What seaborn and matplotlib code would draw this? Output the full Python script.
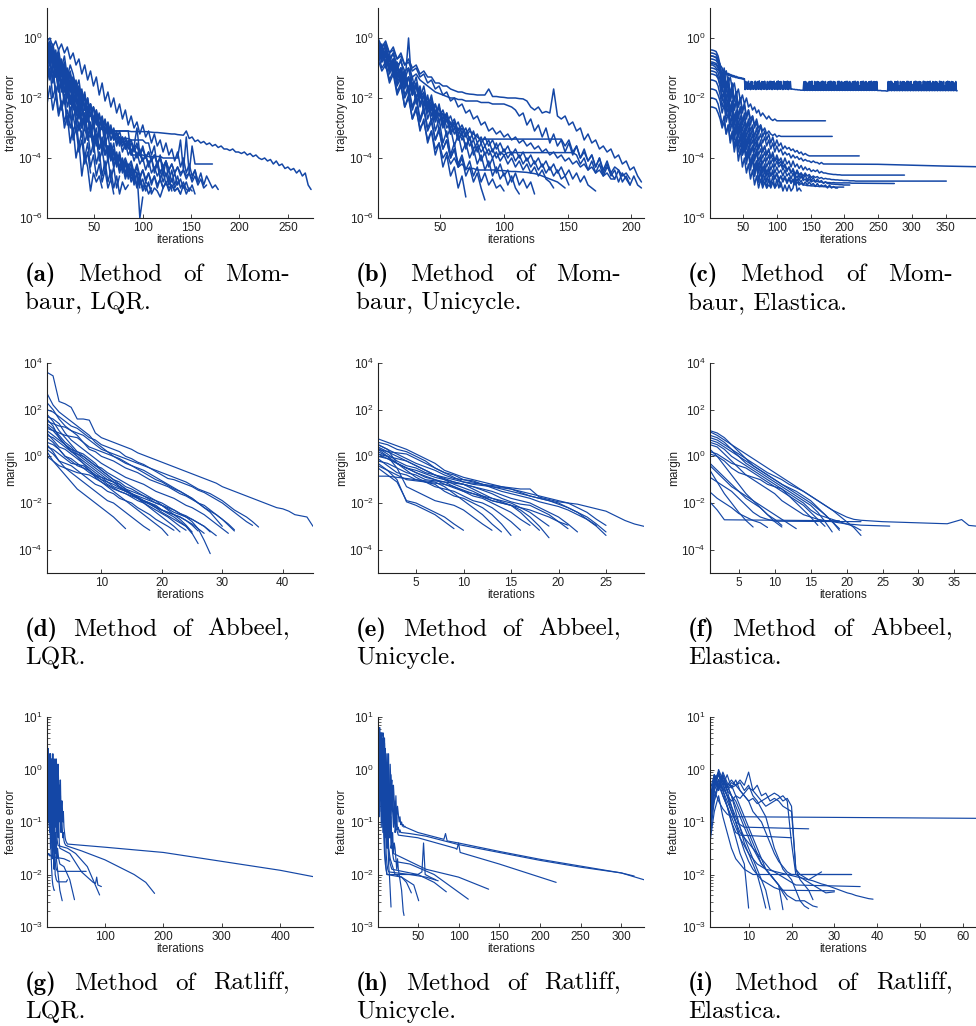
import numpy as np
import pandas as pd
import matplotlib
matplotlib.use("Agg")
import matplotlib.pyplot as plt
import seaborn as sns
from matplotlib.ticker import FixedLocator, FuncFormatter, LogLocator, NullLocator, NullFormatter

# ---------------------------------------------------------------------------
# DATA  (log10 of the plotted quantity, sampled every *_STEP iterations from
# iteration 1; *_TAILS add (iteration, log10 value) points after the samples)
# ---------------------------------------------------------------------------
MOMBAUR_STEP = 3
MOMBAUR_LQR = [
    [-0.1,-0.4,-0.3,-0.8,-0.6,-1.1,-0.9,-1.3,-1.5,-1.3,-1.8,-1.7,-2.1,-2.0,-2.4,-2.3,-2.7,-2.8,-3.0,
     -3.05,-3.1,-3.1,-3.1,-3.1,-3.1,-3.1,-3.1,-3.1,-3.1,-3.12,-3.12,-3.12,-3.12,-3.12,-3.12,
     -3.13,-3.14,-3.15,-3.15,-3.16,-3.17,-3.18,-3.19,-3.2,-3.2,-3.22,-3.23,-3.24,-3.1,-3.35,
     -3.3,-3.45,-3.4,-3.5,-3.45,-3.55,-3.5,-3.6,-3.55,-3.65,-3.6,-3.7,-3.7,-3.75,-3.7,-3.8,-3.8,-3.85,-3.8,-3.9,
     -3.85,-3.95,-3.9,-4.0,-4.05,-4.0,-4.1,-4.05,-4.2,-4.1,-4.25,-4.2,-4.35,-4.3,-4.4,-4.35,-4.5,-4.4,-4.6,-4.5,-4.9,-5.05],
    [-0.5,-0.2,-0.9,-0.6,-1.2,-0.8,-1.4,-1.1,-1.7,-1.5,-2.0,-1.6,-2.2,-2.0,-2.5,-2.3,-2.7,-2.6,-2.9,-2.8,-3.0,
     -3.1,-3.1,-3.1,-3.1,-3.1,-3.1,-3.1,-3.1,-3.9,-3.9,-3.9,-3.9,-3.9,-3.95,-3.95,-3.95,-3.95,-3.95,-3.95,
     -4.0,-4.0,-4.0,-4.0,-4.0,-4.0,-3.4,-4.4,-3.3,-4.5,-3.6,-4.2,-4.2,-4.2,-4.2,-4.2,-4.2,-4.2],
    [-0.8,-0.3,-1.0,-0.7,-1.3,-0.9,-1.5,-1.2,-1.8,-1.4,-2.0,-1.7,-2.3,-1.9,-2.4,-2.2,-2.7,-2.4,-2.9,-2.6,
     -3.1,-2.8,-3.2,-3.0,-3.4,-3.1,-3.5,-3.3,-3.6,-3.4,-3.7,-3.5,-3.9,-3.6,-4.0,-3.8,-4.1,-3.9,-4.2,-4.0,
     -4.3,-4.1,-4.4,-4.2,-4.5,-4.3,-4.5,-4.4,-4.6,-4.5,-4.7,-4.4,-4.8,-4.5,-4.9,-4.6,-4.8,-5.0,-4.9,-5.05],
    [-0.2,-0.6,-0.4,-1.0,-0.7,-1.3,-1.0,-1.6,-1.2,-1.9,-1.5,-2.1,-1.8,-2.4,-2.0,-2.6,-2.3,-2.8,-2.5,-3.0,
     -2.7,-3.2,-2.9,-3.4,-3.1,-3.5,-3.3,-3.7,-3.4,-3.8,-3.6,-4.0,-3.7,-4.1,-3.9,-4.2,-4.0,-4.4,-4.1,-4.5,
     -4.3,-4.6,-4.4,-4.8,-4.5,-4.9,-4.7,-5.0,-4.8,-5.1,-4.9,-5.2],
    [-1.0,-0.6,-1.4,-1.1,-1.8,-1.5,-2.2,-1.8,-2.5,-2.1,-2.8,-2.4,-3.0,-2.7,-3.3,-2.9,-3.5,-3.2,-3.7,-3.4,
     -3.9,-3.6,-4.0,-3.8,-4.2,-3.9,-4.3,-4.1,-4.4,-4.2,-4.6,-4.3,-4.7,-4.4,-4.8,-4.5,-4.9,-4.6,-5.0,-4.7,
     -5.0,-4.8,-5.1,-4.9,-5.1,-5.0,-5.2,-4.9,-5.2,-5.0,-5.1],
    [-0.5,-0.9,-0.6,-1.3,-0.9,-1.7,-1.3,-2.0,-1.6,-2.4,-2.0,-2.7,-2.3,-3.0,-2.6,-3.2,-2.9,-3.5,-3.1,-3.7,
     -3.3,-3.9,-3.5,-4.1,-3.8,-4.3,-4.0,-4.5,-4.2,-4.6,-4.4,-4.5,-6.0,-5.3],
    [-0.3,-0.8,-0.5,-1.3,-1.0,-1.8,-1.4,-2.3,-1.9,-2.7,-2.3,-3.1,-2.7,-3.5,-3.1,-3.9,-3.5,-4.2,-3.8,-4.6,
     -4.1,-4.8,-4.4,-5.0,-4.6,-5.2,-4.8,-5.05,-4.9],
    [-1.5,-1.0,-2.0,-1.6,-2.5,-2.1,-3.0,-2.6,-3.5,-3.0,-4.0,-3.5,-4.6,-3.9,-4.3,-5.1,-4.5,-4.8,-4.6,-5.0],
    [-0.6,-0.2,-1.0,-0.7,-1.5,-1.1,-1.8,-1.4,-2.2,-1.8,-2.5,-2.1,-2.8,-2.5,-3.1,-2.8,-3.4,-3.0,-3.7,-3.3,
     -3.9,-3.6,-4.1,-3.8,-4.3,-4.0,-4.5,-4.2,-4.6,-4.4,-4.8,-4.5,-4.9,-4.7,-5.1,-4.8,-5.2,-5.0,-5.1,-5.3,-5.0],
    [-0.1,-0.5,-0.3,-0.8,-0.5,-1.1,-0.8,-1.4,-1.1,-1.7,-1.4,-2.0,-1.7,-2.3,-2.0,-2.6,-2.3,-2.9,-2.6,-3.0,
     -2.8,-3.2,-3.0,-3.3,-3.2,-3.35,-3.35,-3.35,-3.35,-3.4,-3.4,-3.4,-3.4,-3.4,-3.5,-3.5,-3.9,-3.6,-4.3,-3.9,
     -4.6,-4.1,-4.8,-4.4,-4.9,-4.6,-5.0,-4.8,-5.05,-5.1],
    [-0.4,-0.9,-0.5,-1.2,-0.8,-1.5,-1.1,-1.9,-1.4,-2.2,-1.7,-2.5,-2.0,-2.9,-2.3,-3.2,-2.7,-3.5,-3.0,-3.8,
     -3.3,-4.0,-3.6,-4.3,-3.9,-4.4,-4.1,-4.6,-4.3,-4.7,-4.5,-4.9,-4.6,-5.0,-4.8,-4.9,-5.1],
    [-0.9,-1.4,-1.0,-1.9,-1.5,-2.3,-1.9,-2.8,-2.3,-3.2,-2.7,-3.6,-3.1,-4.0,-3.5,-4.3,-3.9,-4.6,-4.2,-4.8,
     -4.4,-5.0,-4.7,-5.2],
    [-2.2,-1.6,-2.4,-1.9,-2.6,-2.2,-2.8,-2.4,-3.0,-2.6,-3.1,-2.8,-3.3,-3.0,-3.4,-3.2,-3.6,-3.3,-3.7,-3.5,
     -3.8,-3.6,-4.0,-3.7,-4.1,-3.9,-4.2,-4.0,-4.3,-4.1,-4.5,-4.2,-4.6,-4.4,-4.7,-4.5,-4.8,-4.6,-4.9,-4.7,
     -5.0,-4.8,-5.0,-4.9,-5.1,-5.0,-5.2],
    [0.0,-0.4,-0.2,-0.7,-0.4,-1.0,-0.6,-1.3,-0.9,-1.2,-1.7,-1.4,-2.1,-1.8,-2.5,-2.2,-2.9,-2.5,-3.2,-2.9,
     -3.6,-3.2,-3.9,-3.5,-4.2,-3.8,-4.4,-4.1,-4.7,-4.3,-4.9,-4.5,-5.0],
    [-0.3,-0.7,-0.4,-0.9,-0.6,-1.2,-0.9,-1.5,-1.2,-1.8,-1.5,-2.1,-1.8,-2.4,-2.1,-2.6,-2.3,-2.8,-2.6,-3.0,
     -2.8,-3.2,-3.0,-3.4,-3.2,-3.6,-3.3,-3.7,-3.5,-3.9,-3.6,-3.0,-3.9,-4.1,-3.9,-4.3,-4.0,-4.5,-4.2,-4.7,
     -4.4,-4.9,-4.6,-5.1],
    [-0.7,-1.3,-1.0,-1.8,-1.5,-2.4,-2.0,-2.9,-2.5,-3.4,-3.0,-3.8,-3.4,-4.2,-3.8,-4.5],
    [-0.1,0.0,-0.3,-0.1,-0.4,-0.2,-0.5,-0.3,-0.7,-0.5,-0.9,-0.7,-1.2,-0.9,-1.4,-1.1,-1.6,-1.3,-1.9,-1.5,
     -2.1,-1.8,-2.3,-2.0,-2.5,-2.2,-2.7,-2.4,-2.9,-2.6,-3.0,-2.8,-3.2,-2.9,-3.3,-3.1,-3.5,-3.2,-3.6,-3.4,
     -3.8,-3.5,-3.9,-3.7,-4.1,-3.8,-4.3,-4.0,-4.5,-4.2,-4.6,-4.4,-4.8],
    [-0.5,-0.1,-0.8,-0.4,-1.1,-0.7,-1.4,-1.0,-1.7,-1.3,-2.0,-1.6,-2.3,-1.9,-2.5,-2.2,-2.8,-2.4,-3.0,-2.7,
     -3.2,-2.9,-3.4,-3.1,-3.6,-3.3,-3.8,-3.5,-3.9,-3.7,-4.1,-3.8,-4.2,-4.0,-4.4,-4.1,-4.5,-4.3,-4.6,-4.4,
     -4.8,-4.5,-4.9,-4.7,-5.0,-4.8],
    [-0.2,-0.8,-0.5,-1.2,-0.9,-1.6,-1.2,-1.9,-1.5,-2.3,-1.9,-2.6,-2.2,-2.9,-2.5,-3.3,-2.8,-3.6,-3.1,-3.9,
     -3.4,-4.1,-3.7,-4.3,-4.0,-4.5,-4.2,-4.7,-4.4,-4.8,-4.6,-5.0,-4.7,-5.1,-4.9,-5.2,-5.0],
    [-1.2,-0.8,-1.5,-1.1,-1.7,-1.4,-2.0,-1.6,-2.2,-1.9,-2.4,-2.1,-2.6,-2.3,-2.8,-2.5,-3.0,-2.7,-3.1,-2.9,
     -3.3,-3.0,-3.4,-3.2,-3.5,-3.3,-3.6,-3.4,-3.7,-3.5,-3.8,-3.6,-3.9,-3.7,-4.0,-3.8,-4.1,-3.9,-4.2,-4.0,
     -4.3,-4.1,-4.4,-4.2,-4.5,-4.3,-4.6,-4.4,-4.7,-4.5,-4.8,-4.6,-4.9,-4.7,-5.0,-4.9],
    [-0.4,-0.2,-0.9,-0.5,-1.4,-0.9,-1.8,-1.3,-2.2,-1.7,-2.6,-2.1,-3.0,-2.5,-3.4,-2.9,-3.8,-3.3,-4.1,-3.7,
     -4.4,-4.0,-4.7,-4.3,-5.0,-4.6],
]

MOMBAUR_UNICYCLE = [
    [0.0,-0.3,-0.1,-0.5,-0.3,-0.7,-0.5,-0.9,-0.7,-1.0,-0.9,-1.2,-1.1,-1.3,-1.3,-1.5,-1.5,-1.6,-1.6,-1.7,
     -1.75,-1.8,-1.8,-1.85,-1.87,-1.88,-1.9,-1.9,-1.9,-1.7,-1.95,-1.95,-1.97,-1.98,-2.0,-2.0,-2.0,-2.02,-2.03,-2.1,
     -2.3,-2.4,-2.3,-2.5,-2.45,-2.5,-1.7,-2.6,-2.7,-2.6,-2.9,-2.8,-3.1,-3.0,-3.4,-3.2,-3.5,-3.4,-3.7,-3.6,
     -3.8,-3.7,-4.0,-3.9,-4.2,-4.1,-4.4,-4.3,-4.6,-4.8],
    [-0.2,-0.5,-0.3,-0.7,-0.5,-0.9,-0.8,-1.1,-1.0,-1.3,-1.2,-1.4,-1.5,-1.6,-1.7,-1.8,-1.85,-1.9,-1.95,-2.0,
     -2.0,-2.05,-2.05,-2.1,-2.1,-2.1,-2.1,-2.15,-2.15,-2.15,-2.2,-2.2,-2.2,-2.2,-2.25,-2.3,-2.4,-2.6,-2.5,-2.9,
     -2.7,-3.1,-2.9,-3.3,-3.0,-3.5,-3.2,-3.6,-3.4,-3.8,-3.5,-3.9,-3.6,-4.0,-3.8,-4.1,-3.9,-4.3,-4.0,-4.4,
     -4.1,-4.5,-4.3,-4.4,-4.6,-4.5,-4.7],
    [-0.4,-0.8,-0.6,-1.1,-0.8,-1.4,-1.1,-1.7,-1.3,-1.9,-1.6,-2.2,-1.9,-2.4,-2.1,-2.7,-2.3,-2.9,-2.6,-3.0,
     -2.8,-3.2,-3.0,-3.3,-3.1,-3.2,-3.3,-3.4,-3.37,-3.37,-3.37,-3.37,-3.37,-3.37,-3.37,-3.37,-3.37,-3.37,-3.37,-3.37,
     -3.37,-3.37,-3.37,-3.37,-3.37,-3.37,-3.37,-3.37,-3.37,-3.6,-3.4,-3.8,-3.6,-4.0,-3.7,-4.1,-3.9,-4.3,-4.0,-4.5,
     -4.2,-4.6,-4.4,-4.8,-4.5,-4.7,-4.9,-4.6,-4.9,-5.0],
    [-0.3,-0.7,-0.4,-1.0,-0.7,-1.3,-1.0,-1.6,-1.3,-1.9,-1.6,-2.2,-1.9,-2.5,-2.2,-2.8,-2.5,-3.0,-2.7,-3.2,
     -3.0,-3.4,-3.2,-3.6,-3.3,-3.7,-3.5,-3.8,-3.6,-3.9,-3.7,-4.0,-3.8,-3.9,-3.82,-3.82,-3.82,-3.82,-3.82,-3.82,
     -3.82,-3.82,-3.82,-3.82,-3.82,-3.82,-3.82,-3.82,-3.82,-3.82,-3.82,-3.82,-3.9,-4.2,-4.0,-4.4,-4.1,-4.5,-4.2,-4.6,
     -4.3,-4.5,-4.7,-4.4,-4.8,-4.6,-4.9],
    [-0.5,-1.0,-0.8,-1.4,-1.1,-1.8,-1.5,-2.3,-1.9,-2.7,-2.3,-3.1,-2.7,-3.5,-3.1,-3.9,-3.5,-4.3,-3.9,-4.6,
     -4.3,-5.0,-4.6,-5.3],
    [-0.2,-0.6,-0.4,-1.1,-0.8,-1.5,-1.2,-1.9,-1.6,-2.3,-1.9,-2.7,-2.3,-3.0,-2.7,-3.4,-3.0,-3.7,-3.4,-4.0,
     -3.7,-4.3,-4.0,-4.6,-4.3,-4.8,-4.5,-5.0,-5.4],
    [-0.6,-0.3,-0.9,-0.6,-1.2,-0.9,-1.6,-1.2,-1.9,-1.5,-2.2,-1.8,-2.5,-2.1,-2.8,-2.4,-3.1,-2.7,-3.3,-3.0,
     -3.6,-3.2,-3.8,-3.5,-4.0,-3.7,-4.2,-3.9,-4.4,-4.1,-4.6,-4.3,-4.7,-4.5,-4.9,-4.6,-5.0,-5.2],
    [-0.7,-1.1,-0.9,-1.5,-1.2,-1.9,-1.6,-2.3,-2.0,-2.7,-2.4,-3.0,-2.8,-3.4,-3.1,-3.7,-3.5,-4.0,-3.8,-4.2,
     -4.0,-4.3,-4.2,-4.35,-4.35,-4.35,-4.4,-4.4,-4.4,-4.4,-4.4,-4.4,-4.42,-4.42,-4.44,-4.45,-4.45,-4.46,-4.47,-4.48,
     -4.5,-4.52,-4.55,-4.6,-4.65,-4.7,-4.75,-4.8,-4.9,-5.0],
    [-0.1,-0.5,-0.2,-0.8,-0.5,-1.1,-0.7,-1.4,-1.0,-1.7,-1.3,-2.0,-1.6,-2.3,-1.9,-2.6,-2.2,-2.9,-2.5,-3.2,
     -2.8,-3.4,-3.1,-3.7,-3.3,-3.9,-3.6,-4.1,-3.8,-4.3,-4.0,-4.5,-4.2,-4.6,-4.4,-4.8,-4.5,-4.9,-4.7,-5.0,-4.8,-5.2],
    [-0.3,-0.6,-0.5,-0.9,-0.7,-1.2,-1.0,-1.5,-1.3,-1.8,-1.5,-2.0,-1.8,-2.3,-2.0,-2.5,-2.3,-2.7,-2.5,-2.9,
     -2.7,-3.1,-2.9,-3.2,-3.0,-3.4,-3.2,-3.5,-3.3,-3.6,-3.4,-3.7,-3.5,-3.8,-3.6,-3.9,-3.7,-4.0,-3.8,-4.1,
     -3.9,-4.2,-4.0,-4.3,-4.1,-4.4,-4.2,-4.5,-4.3,-4.6,-4.4,-4.7,-4.5,-4.8,-4.6,-4.9,-5.0,-5.1],
    [-0.8,-0.4,-1.0,-0.7,-1.3,-1.0,-1.5,-1.2,-1.8,-1.5,-2.0,-1.7,-2.2,-2.0,-2.4,-2.2,-2.6,-2.4,-2.8,-2.6,
     -3.0,-2.8,-3.2,-3.0,-3.4,-3.1,-3.5,-3.3,-3.6,-3.4,-3.8,-3.5,-3.9,-3.7,-4.0,-3.8,-4.1,-3.9,-4.2,-4.0,
     -4.3,-4.1,-4.4,-4.2,-4.5,-4.3,-4.6,-4.4,-4.7,-4.6,-4.9],
    [-0.2,-0.7,-0.4,-1.0,-0.7,-1.3,-1.0,-1.6,0.0,-1.9,-1.5,-2.3,-1.9,-2.7,-2.3,-3.1,-2.7,-3.5,-3.1,-3.9,
     -3.5,-4.3],
    [-0.1,-0.3,-0.2,-0.5,-0.4,-0.7,-0.6,-0.9,-0.8,-1.1,-1.0,-1.3,-1.2,-1.5,-1.4,-1.7,-1.6,-1.9,-1.8,-2.1,
     -2.0,-2.3,-2.2,-2.5,-2.4,-2.7,-2.6,-2.9,-2.8,-3.1,-3.0,-3.2,-3.1,-3.3,-3.2,-3.4,-3.3,-3.5,-3.4,-3.6,
     -3.5,-3.7,-3.6,-3.8,-3.7,-3.9,-3.8,-4.0,-3.9,-4.1,-4.0,-4.2,-4.1,-4.3,-4.2,-4.4,-4.3,-4.5,-4.4,-4.6,
     -4.5,-4.7,-4.7],
    [-0.5,-0.2,-0.8,-0.5,-1.1,-0.8,-1.4,-1.1,-1.7,-1.3,-2.0,-1.6,-2.3,-1.9,-2.6,-2.2,-2.8,-2.5,-3.0,-2.8,
     -3.2,-3.0,-3.4,-3.2,-3.6,-3.4,-3.8,-3.5,-3.9,-3.7,-4.0,-3.8,-4.1,-3.9,-4.2,-4.0,-4.3,-4.1,-4.4,-4.2,
     -4.5,-4.3,-4.6,-4.4,-4.7,-4.8,-5.0],
    [-0.3,-0.8,-0.5,-1.2,-0.9,-1.6,-1.3,-2.0,-1.7,-2.4,-2.0,-2.8,-2.4,-3.1,-2.8,-3.4,-3.1,-3.7,-3.4,-4.0,
     -3.7,-4.2,-3.9,-4.4,-4.1,-4.6,-4.3,-4.8,-4.5,-4.9,-4.7,-5.0,-4.9,-5.1],
]

# first Elastica run is recorded at every iteration (its oscillation is dense)
MOMBAUR_ELASTICA_LINE_STEP = {0: 1}
MOMBAUR_ELASTICA = [
    [-0.9,-0.9,-0.9,-0.9,-0.9,-0.92,-0.93,-0.95,-0.97,-1.0,-1.02,-1.04,-1.06,-1.08,-1.1,-1.12,
     -1.15,-1.12,-1.18,-1.14,-1.2,-1.16,-1.22,-1.17,-1.1,-1.2,-1.23,-1.18,-1.25,-1.2,-1.26,-1.22,-1.28,-1.24,-1.3,-1.25,
     -1.3,-1.27,-1.32,-1.28,-1.33,-1.3,-1.34,-1.31,-1.35,-1.32,-1.36,-1.33,-1.37,-1.34,-1.38,-1.36,
     -1.72,-1.45,-1.7,-1.48,-1.71,-1.44,-1.7,-1.52,-1.72,-1.45,-1.7,-1.46,-1.71,-1.6,-1.7,-1.44,-1.72,-1.47,-1.7,-1.45,
     -1.71,-1.43,-1.7,-1.5,-1.72,-1.45,-1.7,-1.46,-1.71,-1.44,-1.7,-1.55,-1.72,-1.45,-1.7,-1.47,-1.71,-1.44,-1.7,-1.45,
     -1.72,-1.46,-1.7,-1.44,-1.71,-1.5,-1.7,-1.45,-1.72,-1.43,-1.7,-1.46,-1.71,-1.45,-1.7,-1.58,-1.72,-1.44,-1.7,-1.46,
     -1.71,-1.45,-1.7,-1.44,-1.72,-1.47,-1.7,-1.45,-1.71,
     -1.7,-1.7,-1.71,-1.71,-1.71,-1.72,-1.72,-1.72,-1.72,-1.73,-1.73,-1.73,-1.73,-1.74,-1.74,-1.74,-1.74,-1.74,
     -1.46,-1.75,-1.45,-1.74,-1.47,-1.75,-1.52,-1.74,-1.45,-1.75,-1.46,-1.74,-1.44,-1.75,-1.6,-1.74,-1.45,-1.75,-1.47,-1.74,
     -1.45,-1.75,-1.46,-1.74,-1.5,-1.75,-1.45,-1.74,-1.44,-1.75,-1.47,-1.74,-1.45,-1.75,-1.55,-1.74,-1.46,-1.75,-1.45,-1.74,
     -1.44,-1.75,-1.47,-1.74,-1.45,-1.75,-1.46,-1.74,-1.58,-1.75,-1.45,-1.74,-1.44,-1.75,-1.47,-1.74,-1.45,-1.75,-1.5,-1.74,
     -1.46,-1.75,-1.45,-1.74,-1.44,-1.75,-1.47,-1.74,-1.45,-1.75,-1.53,-1.74,-1.46,-1.75,-1.45,-1.74,-1.44,-1.75,-1.47,-1.74,
     -1.45,-1.75,-1.6,-1.74,-1.46,-1.75,-1.45,-1.74,-1.44,-1.75,-1.47,-1.74,-1.45,-1.75,-1.5,-1.74,-1.46,-1.75,-1.45,-1.74,
     -1.44,-1.75,-1.47,-1.74,-1.45,-1.75,-1.46,-1.74,-1.45,-1.75,-1.75,
     -1.75,-1.75,-1.75,-1.75,-1.76,-1.76,-1.76,-1.76,-1.76,-1.76,-1.76,-1.77,-1.77,-1.77,
     -1.45,-1.76,-1.46,-1.75,-1.44,-1.76,-1.47,-1.75,-1.52,-1.76,-1.45,-1.75,-1.46,-1.76,-1.44,-1.75,-1.6,-1.76,-1.45,-1.75,
     -1.47,-1.76,-1.45,-1.75,-1.46,-1.76,-1.5,-1.75,-1.44,-1.76,-1.45,-1.75,-1.47,-1.76,-1.45,-1.75,-1.55,-1.76,-1.46,-1.75,
     -1.44,-1.76,-1.45,-1.75,-1.47,-1.76,-1.45,-1.75,-1.46,-1.76,-1.58,-1.75,-1.44,-1.76,-1.45,-1.75,-1.47,-1.76,-1.45,-1.75,
     -1.46,-1.76,-1.44,-1.75,-1.5,-1.76,-1.45,-1.75,-1.47,-1.76,-1.45,-1.75,-1.46,-1.76,-1.53,-1.75,-1.44,-1.76,-1.45,-1.75,
     -1.47,-1.76,-1.45,-1.75,-1.6,-1.76,-1.46,-1.75,-1.44,-1.76,-1.45,-1.75,-1.47,-1.76,-1.45,-1.75,-1.46,-1.76,-1.5,-1.75,
     -1.45,-1.76,-1.76],
    [-0.6,-0.6,-0.62,-0.65,-0.75,-0.9,-1.0,-1.3,-1.1,-1.5,-1.3,-1.7,-1.5,-1.9,-1.7,-2.1,-1.9,-2.2,-2.0,-2.3,
     -2.2,-2.4,-2.3,-2.5,-2.4,-2.6,-2.5,-2.6,-2.7,-2.6,-2.7,-2.75,-2.7,-2.76,-2.76],
    [-0.8,-0.8,-0.82,-0.85,-0.95,-1.1,-1.4,-1.2,-1.7,-1.4,-1.9,-1.6,-2.1,-1.8,-2.3,-2.0,-2.4,-2.2,-2.6,-2.4,
     -2.7,-2.6,-2.9,-2.7,-3.0,-2.9,-3.1,-3.0,-3.2,-3.1,-3.2,-3.25,-3.2,-3.3,-3.25,-3.28,-3.28,-3.28],
    [-0.5,-0.5,-0.52,-0.55,-0.7,-0.9,-1.3,-1.0,-1.6,-1.3,-1.9,-1.5,-2.1,-1.8,-2.3,-2.0,-2.5,-2.2,-2.7,-2.4,
     -2.9,-2.6,-3.0,-2.8,-3.2,-2.9,-3.3,-3.1,-3.4,-3.2,-3.5,-3.3,-3.6,-3.4,-3.6,-3.5,-3.7,-3.6,-3.7,-3.65,
     -3.75,-3.7,-3.8,-3.75,-3.85,-3.8,-3.9,-3.85,-3.9,-3.93,-3.93],
    [-0.7,-0.7,-0.72,-0.75,-0.85,-1.0,-1.5,-1.2,-1.8,-1.5,-2.1,-1.8,-2.4,-2.1,-2.6,-2.3,-2.8,-2.5,-3.0,-2.7,
     -3.1,-2.9,-3.3,-3.0,-3.4,-3.2,-3.5,-3.3,-3.6,-3.4,-3.7,-3.5,-3.8,-3.6,-3.8,-3.7,-3.9,-3.8,-3.9,-3.85,
     -4.0,-3.9,-4.0,-3.95,-4.05,-4.0,-4.1,-4.05,-4.1,-4.1,-4.15,-4.1,-4.15,-4.15,-4.2,-4.15,-4.2,-4.2,-4.2],
    [-1.0,-1.0,-1.02,-1.05,-1.15,-1.4,-1.8,-1.5,-2.1,-1.8,-2.4,-2.1,-2.7,-2.4,-2.9,-2.6,-3.1,-2.8,-3.3,-3.0,
     -3.5,-3.2,-3.6,-3.4,-3.7,-3.5,-3.8,-3.6,-3.9,-3.7,-4.0,-3.8,-4.1,-3.9,-4.1,-4.0,-4.2,-4.0,-4.2,-4.1,
     -4.3,-4.1,-4.3,-4.2,-4.35,-4.25,-4.4,-4.3,-4.4,-4.35,-4.45,-4.4,-4.45,-4.4,-4.5,-4.45,-4.5,-4.5,-4.52,-4.53,
     -4.54,-4.55,-4.55,-4.56,-4.56,-4.57,-4.57,-4.57],
    [-1.2,-1.2,-1.22,-1.25,-1.35,-1.6,-2.0,-1.7,-2.3,-2.0,-2.6,-2.3,-2.9,-2.6,-3.1,-2.8,-3.3,-3.0,-3.5,-3.2,
     -3.6,-3.4,-3.8,-3.5,-3.9,-3.7,-4.0,-3.8,-4.1,-3.9,-4.2,-4.0,-4.3,-4.1,-4.3,-4.2,-4.4,-4.25,-4.45,-4.3,
     -4.5,-4.35,-4.55,-4.4,-4.55,-4.5,-4.6,-4.5,-4.6,-4.55,-4.65,-4.6,-4.65,-4.62,-4.68,-4.65,-4.7,-4.68,-4.7,-4.7,
     -4.72,-4.72,-4.73,-4.73,-4.74,-4.74,-4.75,-4.75,-4.75,-4.76,-4.76,-4.76,-4.77,-4.77,-4.77,-4.77],
    [-1.4,-1.4,-1.42,-1.45,-1.6,-1.9,-2.3,-2.0,-2.6,-2.3,-2.9,-2.6,-3.1,-2.8,-3.3,-3.0,-3.5,-3.2,-3.7,-3.4,
     -3.8,-3.6,-4.0,-3.7,-4.1,-3.9,-4.2,-4.0,-4.3,-4.1,-4.4,-4.2,-4.5,-4.3,-4.5,-4.4,-4.6,-4.4,-4.6,-4.5,
     -4.7,-4.5,-4.7,-4.6,-4.75,-4.6,-4.75,-4.7,-4.8,-4.7,-4.8,-4.75,-4.8,-4.78,-4.8,-4.8,-4.82,-4.8,-4.82,-4.82,
     -4.83,-4.82,-4.83,-4.83,-4.83,-4.83,-4.83,-4.83,-4.83,-4.83,-4.84,-4.84,-4.84],
    [-0.4,-0.4,-0.42,-0.45,-0.6,-0.9,-1.4,-1.1,-1.8,-1.4,-2.1,-1.7,-2.4,-2.0,-2.7,-2.3,-2.9,-2.6,-3.1,-2.8,
     -3.3,-3.0,-3.5,-3.2,-3.7,-3.4,-3.8,-3.6,-3.9,-3.7,-4.0,-3.9,-4.1,-4.0,-4.2,-4.1,-4.3,-4.2,-4.4,-4.3,
     -4.5,-4.4,-4.6,-4.45,-4.65,-4.5,-4.7,-4.55,-4.75,-4.6,-4.75,-4.65,-4.8,-4.7,-4.8,-4.75,-4.85,-4.8,-4.85,-4.85,
     -4.87,-4.87,-4.88,-4.88,-4.89,-4.89,-4.9,-4.9,-4.9,-4.9],
    [-0.85,-0.85,-0.87,-0.9,-1.0,-1.2,-1.7,-1.4,-2.1,-1.7,-2.5,-2.1,-2.8,-2.5,-3.1,-2.8,-3.4,-3.1,-3.7,-3.3,
     -3.9,-3.6,-4.1,-3.8,-4.3,-4.0,-4.4,-4.2,-4.5,-4.3,-4.6,-4.4,-4.7,-4.5,-4.75,-4.6,-4.8,-4.65,-4.85,-4.7,
     -4.85,-4.75,-4.9,-4.8,-4.9,-4.85,-4.9,-4.9,-4.92,-4.92,-4.93,-4.93,-4.94,-4.94,-4.95,-4.95,-4.95,-4.96,-4.96,-4.96,
     -4.97,-4.97,-4.97,-4.97,-4.97,-4.97,-4.97],
    [-1.1,-1.1,-1.12,-1.15,-1.3,-1.6,-2.1,-1.8,-2.5,-2.1,-2.9,-2.5,-3.3,-2.9,-3.6,-3.2,-3.9,-3.5,-4.2,-3.8,
     -4.4,-4.0,-4.6,-4.2,-4.8,-4.4,-4.9,-4.6,-5.0,-4.7,-5.0,-4.8,-5.0,-4.9,-4.7,-4.97],
    [-1.7,-1.7,-1.72,-1.75,-1.9,-2.1,-2.5,-2.2,-2.8,-2.5,-3.1,-2.8,-3.4,-3.0,-3.6,-3.3,-3.8,-3.5,-4.0,-3.7,
     -4.2,-3.9,-4.4,-4.1,-4.5,-4.2,-4.7,-4.4,-4.8,-4.5,-4.9,-4.6,-5.0,-4.7,-5.0,-4.8,-5.1,-4.9,-5.1,-4.9,
     -5.1,-5.0,-4.6,-5.1,-5.0,-5.1],
    [-2.0,-2.0,-2.02,-2.05,-2.2,-2.5,-2.9,-2.6,-3.2,-2.9,-3.5,-3.2,-3.8,-3.4,-4.1,-3.7,-4.3,-4.0,-4.5,-4.2,
     -4.7,-4.4,-4.9,-4.6,-5.0,-4.7,-5.0,-4.8,-5.0,-4.9,-4.97],
    [-2.3,-2.3,-2.32,-2.35,-2.5,-2.7,-3.0,-2.8,-3.2,-2.9,-3.4,-3.1,-3.6,-3.3,-3.8,-3.5,-3.9,-3.7,-4.1,-3.8,
     -4.2,-4.0,-4.3,-4.1,-4.4,-4.2,-4.5,-4.3,-4.6,-4.4,-4.6,-4.5,-4.7,-4.5,-4.7,-4.6,-4.75,-4.6,-4.8,-4.65,
     -4.8,-4.7,-4.85,-4.7,-4.85,-4.75,-4.9,-4.8,-4.9,-4.8,-4.9,-4.85,-4.95,-4.85,-4.95,-4.9,-4.95,-4.9,-5.0,-4.9,
     -5.0,-4.95,-5.0,-5.0],
    [-0.6,-0.6,-0.62,-0.65,-0.8,-1.1,-1.7,-1.3,-2.1,-1.7,-2.5,-2.1,-2.9,-2.5,-3.3,-2.9,-3.7,-3.3,-4.0,-3.6,
     -4.3,-3.9,-4.6,-4.2,-4.8,-4.4,-4.9],
]
MOMBAUR_ELASTICA_TAILS = {
    1: [(172, -2.76)],
    2: [(182, -3.28)],
    3: [(222, -3.93)],
    4: [(250, -4.21), (300, -4.24), (350, -4.27), (395, -4.29)],
    5: [(289, -4.57)],
    6: [(351, -4.77)],
    7: [(274, -4.85)],
}

ABBEEL_STEP = 1
ABBEEL_LQR = [
    [3.6,3.45,2.35,2.25,2.1,1.6,1.6,1.55,1.0,0.8,0.7,0.6,0.5,0.4,0.3,0.15,0.05,-0.05,-0.15,-0.25,
     -0.35,-0.45,-0.55,-0.65,-0.75,-0.85,-0.95,-1.05,-1.15,-1.3,-1.4,-1.5,-1.6,-1.7,-1.8,-1.9,-2.0,-2.1,-2.2,-2.25,
     -2.35,-2.5,-2.55,-2.6,-3.0],
    [2.0,1.9,1.7,1.5,1.3,1.2,1.0,0.8,0.7,0.5,0.4,0.3,0.2,0.0,-0.1,-0.25,-0.35,-0.5,-0.6,-0.7,
     -0.8,-0.9,-1.0,-1.1,-1.25,-1.4,-1.5,-1.6,-1.75,-1.9,-2.1,-2.3,-2.45,-2.6,-2.8,-3.03],
    [1.5,1.4,1.3,1.25,1.1,1.0,0.9,0.7,0.5,0.3,0.2,0.1,0.0,-0.1,-0.2,-0.3,-0.4,-0.5,-0.65,-0.8,
     -0.95,-1.0,-1.1,-1.2,-1.3,-1.45,-1.55,-1.7,-1.85,-2.0,-2.2,-2.4,-2.6,-2.8,-2.96],
    [1.2,1.1,1.0,0.9,0.85,0.8,0.6,0.4,0.3,0.2,0.1,0.0,-0.1,-0.25,-0.4,-0.5,-0.6,-0.75,-0.9,-1.05,
     -1.2,-1.35,-1.5,-1.65,-1.8,-2.0,-2.2,-2.35,-2.5,-2.7,-2.95,-3.2],
    [2.3,2.0,1.6,1.3,1.1,0.9,0.6,0.3,0.2,0.0,-0.1,-0.2,-0.35,-0.5,-0.6,-0.7,-0.85,-1.0,-1.1,-1.2,
     -1.3,-1.45,-1.6,-1.7,-1.85,-2.0,-2.1,-2.3,-2.5,-2.7,-2.9,-3.15],
    [1.7,1.6,1.4,1.0,0.7,0.5,0.3,0.1,-0.1,-0.3,-0.45,-0.6,-0.75,-0.9,-1.0,-1.1,-1.2,-1.35,-1.5,-1.6,
     -1.7,-1.8,-1.95,-2.1,-2.2,-2.35,-2.5,-2.7,-2.9,-3.1,-3.3],
    [0.9,0.8,0.6,0.4,0.2,0.1,0.0,-0.2,-0.4,-0.6,-0.8,-1.0,-1.1,-1.3,-1.4,-1.55,-1.7,-1.8,-1.9,-2.0,
     -2.15,-2.3,-2.45,-2.6,-2.7,-2.85,-3.0,-3.2,-3.4],
    [1.3,1.1,0.8,0.5,0.3,0.0,-0.2,-0.4,-0.6,-0.8,-1.0,-1.1,-1.2,-1.4,-1.5,-1.6,-1.7,-1.85,-2.0,-2.1,
     -2.25,-2.4,-2.5,-2.6,-2.8,-3.1,-3.6,-4.17],
    [0.6,0.5,0.3,0.0,-0.2,-0.4,-0.5,-0.6,-0.8,-1.0,-1.1,-1.2,-1.35,-1.5,-1.6,-1.7,-1.8,-1.9,-2.0,-2.1,
     -2.2,-2.3,-2.45,-2.55,-2.7,-2.85,-3.0,-3.24],
    [1.0,0.7,0.4,0.3,0.1,-0.1,-0.3,-0.5,-0.7,-0.9,-1.0,-1.1,-1.3,-1.45,-1.6,-1.75,-1.9,-2.0,-2.1,-2.3,
     -2.45,-2.6,-2.8,-3.0,-3.3,-3.74],
    [0.4,0.3,0.1,-0.1,-0.3,-0.35,-0.4,-0.6,-0.8,-0.9,-1.1,-1.3,-1.4,-1.5,-1.65,-1.8,-1.9,-2.0,-2.15,-2.3,
     -2.4,-2.5,-2.6,-2.75,-2.95,-3.2],
    [1.8,1.5,1.1,0.8,0.5,0.2,0.0,-0.2,-0.4,-0.5,-0.7,-0.85,-1.0,-1.15,-1.3,-1.45,-1.6,-1.75,-1.9,-2.1,
     -2.3,-2.5,-2.7,-2.95,-3.24],
    [0.8,0.6,0.3,0.0,-0.1,-0.3,-0.5,-0.7,-0.85,-1.0,-1.2,-1.35,-1.5,-1.6,-1.75,-1.9,-2.0,-2.15,-2.3,-2.45,
     -2.6,-2.8,-3.0,-3.17],
    [1.4,1.2,0.9,0.6,0.4,0.1,-0.1,-0.3,-0.5,-0.7,-0.9,-1.1,-1.3,-1.5,-1.6,-1.8,-2.0,-2.2,-2.4,-2.6,
     -2.8,-3.0,-3.24],
    [0.3,0.1,-0.2,-0.3,-0.4,-0.6,-0.8,-1.0,-1.2,-1.3,-1.5,-1.6,-1.8,-1.9,-2.0,-2.2,-2.35,-2.5,-2.7,-2.85,
     -3.0,-3.17],
    [1.1,0.9,0.7,0.5,0.2,0.0,-0.3,-0.6,-0.9,-1.1,-1.3,-1.5,-1.7,-1.9,-2.1,-2.3,-2.5,-2.7,-2.9,-3.1,-3.39],
    [0.5,0.2,-0.2,-0.5,-0.7,-0.9,-1.1,-1.3,-1.5,-1.7,-1.9,-2.0,-2.2,-2.4,-2.6,-2.8,-3.0,-3.17],
    [0.2,-0.2,-0.5,-0.8,-1.1,-1.4,-1.6,-1.8,-2.0,-2.2,-2.4,-2.6,-2.85,-3.1],
    [2.7,2.2,1.9,1.7,1.5,1.3,1.1,0.9,0.6,0.4,0.2,0.0,-0.15,-0.3,-0.4,-0.55,-0.7,-0.85,-1.0,-1.1,
     -1.25,-1.4,-1.5,-1.65,-1.8,-2.0,-2.2,-2.4,-2.7,-3.0],
    [0.0,-0.2,-0.4,-0.5,-0.6,-0.7,-0.75,-0.8,-0.95,-1.1,-1.25,-1.4,-1.5,-1.6,-1.7,-1.8,-1.95,-2.05,-2.2,-2.3,
     -2.4,-2.5,-2.6,-2.75,-2.9,-3.1,-3.3],
    [1.6,1.3,0.8,0.5,0.3,0.2,0.1,-0.1,-0.3,-0.6,-0.8,-1.0,-1.2,-1.4,-1.6,-1.75,-1.9,-2.05,-2.2,-2.4,
     -2.55,-2.7,-2.85,-3.0,-3.3],
]

ABBEEL_UNICYCLE = [
    [0.75,0.6,0.45,0.3,0.1,-0.1,-0.3,-0.6,-0.75,-0.9,-1.0,-1.1,-1.2,-1.3,-1.35,-1.4,-1.4,-1.75,-1.85,-1.95,
     -2.0,-2.05,-2.15,-2.25,-2.35,-2.55,-2.75,-2.9,-3.0],
    [0.6,0.5,0.3,0.2,0.0,-0.2,-0.5,-0.7,-0.8,-1.0,-1.1,-1.2,-1.3,-1.4,-1.5,-1.6,-1.7,-1.8,-1.9,-2.0,
     -2.2,-2.4,-2.7,-3.0,-3.39],
    [0.3,0.2,0.15,0.1,-0.1,-0.3,-0.5,-0.7,-0.9,-1.1,-1.2,-1.25,-1.3,-1.35,-1.4,-1.5,-1.6,-1.7,-1.8,-1.9,
     -2.0,-2.2,-2.4,-2.7,-2.96],
    [0.1,0.0,-0.1,-0.2,-0.4,-0.6,-0.8,-0.9,-1.0,-1.1,-1.15,-1.2,-1.25,-1.3,-1.4,-1.55,-1.7,-1.8,-1.9,-2.05,
     -2.2,-2.4,-2.6,-2.9,-3.24],
    [0.5,0.3,0.1,-0.1,-0.3,-0.45,-0.6,-0.8,-0.95,-1.0,-1.05,-1.2,-1.35,-1.5,-1.6,-1.7,-1.8,-1.95,-2.05,-2.15,
     -2.3,-2.5,-2.7,-2.96],
    [0.0,-0.1,-0.3,-0.5,-0.6,-0.75,-0.9,-1.0,-1.1,-1.2,-1.3,-1.4,-1.5,-1.65,-1.8,-1.9,-2.0,-2.2,-2.4,-2.6,
     -2.9,-3.24],
    [0.4,0.2,0.0,-0.2,-0.4,-0.6,-0.8,-0.95,-1.1,-1.2,-1.3,-1.45,-1.6,-1.8,-1.95,-2.05,-2.1,-2.3,-2.5,-2.8,-3.1],
    [0.2,0.0,-0.3,-0.5,-0.7,-0.9,-1.0,-1.1,-1.3,-1.45,-1.6,-1.75,-1.9,-2.0,-2.1,-2.3,-2.6,-3.0,-3.49],
    [-0.2,-0.3,-0.5,-0.7,-0.8,-1.0,-1.05,-1.1,-1.15,-1.2,-1.4,-1.6,-1.8,-1.9,-2.0,-2.2,-2.4,-2.7,-2.99],
    [0.5,0.3,-0.3,-0.5,-0.7,-0.85,-1.0,-1.2,-1.35,-1.5,-1.6,-1.7,-1.8,-1.95,-2.1,-2.4,-2.8,-3.17],
    [-0.4,-0.6,-0.8,-1.0,-1.05,-1.1,-1.15,-1.2,-1.3,-1.5,-1.7,-1.8,-2.0,-2.2,-2.4,-2.7,-2.96],
    [0.1,-0.1,-0.3,-0.6,-0.9,-1.1,-1.3,-1.4,-1.5,-1.7,-1.9,-2.0,-2.2,-2.5,-2.8,-3.17],
    [-0.1,-0.4,-0.7,-0.8,-1.0,-1.1,-1.2,-1.5,-1.7,-1.8,-2.0,-2.2,-2.5,-2.9,-3.39],
    [-0.85,-0.85,-0.9,-0.95,-1.0,-1.05,-1.1,-1.3,-1.6,-1.9,-2.2,-2.5,-2.9,-3.24],
    [0.3,0.0,-0.5,-1.3,-1.5,-1.7,-1.9,-2.0,-2.1,-2.3,-2.6,-2.9,-3.17],
    [-0.5,-0.8,-1.1,-1.9,-2.0,-2.2,-2.4,-2.6,-2.9,-3.17],
    [-0.3,-0.6,-1.0,-1.95,-2.1,-2.3,-2.5,-2.8,-3.1],
    [0.35,0.1,-0.2,-0.4,-0.5,-0.7,-0.8,-1.0,-1.2,-1.35,-1.5,-1.7,-1.9,-2.0,-2.1,-2.2,-2.3,-2.45,-2.6,-2.8,-2.95],
]

ABBEEL_ELASTICA = [
    [1.05,0.9,0.7,0.5,0.3,0.1,-0.1,-0.3,-0.5,-0.7,-0.9,-1.1,-1.3,-1.5,-1.7,-1.9,-2.1,-2.3,-2.45,-2.6,
     -2.7,-2.74,-2.76,-2.78,-2.8,-2.81,-2.82,-2.83,-2.84,-2.85,-2.86,-2.87,-2.88,-2.89,-2.8,-2.71,-2.96,-2.99],
    [-1.96,-2.3,-2.72],
    [-1.53,-1.8,-2.0,-2.2,-2.45,-2.6,-2.75,-2.85,-3.05],
    [-0.6,-1.1,-1.6,-2.0,-2.4,-2.75,-3.03],
    [0.3,0.0,-0.4,-0.8,-1.2,-1.6,-1.9,-2.2,-2.5,-2.8,-3.03],
    [-0.3,-0.6,-0.9,-1.2,-1.5,-1.8,-2.0,-2.2,-2.5,-2.7,-2.96],
    [0.6,0.5,0.3,0.0,-0.2,-0.4,-0.6,-0.8,-1.0,-1.2,-1.4,-1.7,-2.0,-2.3,-2.6,-2.96],
    [0.9,0.8,0.6,0.3,0.0,-0.3,-0.5,-0.7,-0.9,-1.1,-1.3,-1.5,-1.7,-1.9,-2.1,-2.4,-2.8,-3.24],
    [1.1,1.0,0.8,0.5,0.2,-0.1,-0.4,-0.6,-0.8,-1.0,-1.2,-1.4,-1.6,-1.8,-2.0,-2.25,-2.5,-2.8,-3.17],
    [0.8,0.7,0.5,0.3,0.1,-0.1,-0.3,-0.5,-0.7,-0.85,-1.0,-1.2,-1.35,-1.5,-1.7,-1.9,-2.1,-2.3,-2.55,-2.8,-3.05,-3.39],
    [0.1,0.0,-0.2,-0.5,-0.7,-0.8,-0.9,-1.0,-1.2,-1.3,-1.4,-1.6,-1.8,-2.0,-2.3,-2.5,-2.6,-2.7,-2.8,-2.9,-3.0,-3.17],
    [0.5,0.4,0.1,-0.2,-0.5,-0.8,-1.0,-1.2,-1.4,-1.6,-1.9,-2.1,-2.3,-2.5,-2.6,-2.7,-2.75,-2.8,-2.85,-2.9,
     -2.92,-2.95,-2.96,-2.97,-2.98,-2.99],
    [-0.9,-1.1,-1.3,-1.5,-1.8,-2.1,-2.4,-2.6,-2.7,-2.78],
    [0.2,0.1,-0.1,-0.3,-0.4,-0.5,-0.7,-0.9,-1.1,-1.3,-1.5,-1.7,-1.9,-2.1,-2.4,-2.7,-3.0],
    [-0.4,-0.7,-1.0,-1.3,-1.5,-1.7,-1.9,-2.1,-2.3,-2.5,-2.7,-2.9,-3.1],
    [0.7,0.6,0.4,0.2,0.0,-0.2,-0.4,-0.6,-0.8,-1.0,-1.2,-1.35,-1.5,-1.7,-1.9,-2.2,-2.5,-2.8,-3.1],
]
ABBEEL_ELASTICA_TAILS = {1: [(19, -2.76)], 12: [(22, -2.8)]}

RATLIFF_STEP = 1
RATLIFF_LQR = [
    [0.3,-0.5,0.4,-0.3,0.2,-0.6,0.3,0.0,-0.8,0.2,0.2,0.2,-0.4,0.1,-0.9,0.2,0.2,-0.2,-0.6,0.1,
     -0.3,-0.3,-0.7,-0.2,-0.9,-0.6,-0.6,-1.0,-0.8,-1.1,-1.2,-1.3,-1.35,-1.38,-1.4,-1.42],
    [-0.2,0.4,-0.4,0.1,-0.6,0.3,-0.2,-0.5,0.2,-0.3,0.3,-0.7,-0.1,0.2,-0.5,-0.2,-0.8,0.1,-0.4,-0.9,
     -0.2,-0.6,-1.0,-0.5,-1.2,-0.8,-1.1,-1.3,-1.2,-1.35,-1.4,-1.42,-1.44,-1.45,-1.45,-1.46],
    [0.1,-0.8,-0.2,0.3,-0.6,-0.1,0.2,-0.4,-1.0,-0.3,0.1,-0.6,-0.2,-0.9,-0.4,-1.1,-0.6,-1.3,-1.4,-1.45],
    [-0.4,0.0,-0.9,0.1,-0.3,-1.2,0.0,-0.5,0.2,-0.7,-0.2,-1.0,-0.4,-0.1,-0.8,-0.3,-1.2,-0.5,-1.0,-1.3,
     -0.9,-1.4,-1.5],
    [0.0,0.3,-0.5,-0.1,0.2,-0.7,-0.3,0.1,-0.9,-0.4,-1.2,-0.6,-1.3,-1.6,-1.75,-1.85,-1.9,-1.92,-1.94],
    [-0.7,-0.1,0.2,-0.5,-1.1,-0.2,0.0,-0.6,-1.3,-0.4,-0.8,-1.5,-0.7,-1.1,-1.6,-1.2,-1.4,-1.7,-1.5,-1.6,
     -1.7,-1.75,-1.8],
    [0.2,-0.3,-1.0,-0.1,-0.5,0.1,-0.8,-1.4,-0.6,-1.1,-0.3,-0.9,-1.5,-1.2,-1.6,-1.4,-1.7,-1.8,-1.9,-2.0,
     -2.1,-2.2,-2.3,-2.35,-2.4,-2.45,-2.5],
    [-1.1,-0.4,0.1,-0.6,-0.2,-0.9,-1.5,-0.8,-1.2,-1.7,-1.0,-1.4,-1.9,-1.6,-2.0,-2.05,-2.1,-2.12,-2.14,-2.14],
    [0.4,-0.2,0.1,-0.7,0.0,-0.4,-1.0,-1.6,-1.9,-2.1,-2.2,-2.25,-2.3,-2.3],
    [-1.65,-1.63,-1.63,-1.6,-1.62,-1.65,-1.63,-1.64,-1.66],
]
RATLIFF_LQR_TAILS = {
    0: [(100, -1.48), (200, -1.58), (300, -1.75), (400, -1.92), (456, -2.04)],
    1: [(60, -1.55), (100, -1.72), (150, -2.0), (170, -2.15), (185, -2.36)],
    2: [(36, -1.5), (50, -1.6), (70, -1.85), (91, -2.39)],
    3: [(40, -1.6), (60, -1.95), (80, -2.15), (84, -2.17), (86, -2.05), (88, -2.2), (94, -2.23)],
    4: [(68, -1.94)],
    5: [(30, -1.85), (40, -2.1), (48, -2.48)],
    7: [(34, -2.14), (36, -2.1)],
    9: [(30, -1.7), (40, -1.75)],
}

RATLIFF_UNICYCLE = [
    [0.3,0.7,-0.2,0.5,0.7,-0.4,0.6,0.2,-0.5,0.4,0.0,-0.6,0.3,-0.3,-0.7,0.1,-0.4,-0.2,-0.8,-0.3,
     -0.6,-0.9,-0.5,-1.0,-0.7,-0.85,-1.0,-0.9,-1.05,-1.0,-1.08,-1.05,-1.1,-1.08,-1.1],
    [-0.3,0.5,0.8,0.0,0.5,-0.5,0.7,0.6,-0.1,-0.6,0.3,-0.2,-0.7,0.1,-0.4,-0.9,-0.1,-0.6,-0.3,-0.8,
     -1.0,-0.6,-1.1,-0.9,-1.15,-1.1,-1.2,-1.15,-1.2],
    [0.6,-0.4,0.2,0.7,-0.1,-0.8,0.4,-0.3,0.5,-0.6,0.0,-0.9,-0.2,0.3,-0.7,-0.4,-1.0,-0.5,-0.8,-1.1,
     -0.7,-1.2,-1.1,-1.15,-1.2,-1.25],
    [-0.5,0.2,-0.8,0.4,-0.2,-1.0,0.1,-0.6,0.6,-0.3,-1.1,-0.1,-0.7,-1.2,-0.5,-1.3,-0.9,-1.4,-1.5,-1.6],
    [0.1,-0.7,0.5,-0.3,0.3,-0.9,-0.2,0.4,-0.6,-1.2,0.0,-0.5,-1.0,-0.3,-1.3,-0.8,-1.5,-1.4,-1.6,-1.7,-1.75],
    [-0.2,0.6,-0.5,0.2,-1.1,0.4,-0.4,-0.8,0.1,-1.2,-0.6,-1.3,-0.9,-1.5,-1.7,-1.8,-1.85,-1.9],
    [0.4,-0.1,-0.9,0.3,-0.5,0.0,-1.1,-0.4,-1.3,-0.7,-1.6,-1.8,-1.9,-1.95],
    [0.0,0.5,-0.6,0.2,-0.2,-1.0,-0.4,-1.2,-1.6,-1.8,-1.9,-2.0],
    [-0.6,0.1,-0.3,0.4,-0.8,-0.2,-1.2,-0.6,-1.4,-1.7,-1.9,-2.0],
    [0.2,-0.4,0.8,-0.2,0.3,-0.7,-0.1,-0.9,0.2,-0.5,-1.0,-0.3,-1.2,-0.6,-0.9,-1.3,-1.0,-1.4,-1.2,-1.6,
     -1.4,-1.5,-1.7,-1.9,-1.7,-1.9,-2.0,-2.1,-2.2,-2.3,-2.5,-2.7,-2.78],
    [0.5,-0.3,0.7,-0.6,0.1,-0.9,-0.2,-1.1,-0.5,-1.3,-0.8,-1.5,-1.2,-1.8,-2.0,-2.3,-2.62],
    [-0.1,0.6,-0.7,0.0,0.4,-1.0,-0.3,-0.6,-1.2,-0.4,-1.0,-1.3,-0.8,-1.5,-1.6,-1.7,-1.75,-1.8,-1.85,-1.9,
     -1.95,-2.0],
]
RATLIFF_UNICYCLE_TAILS = {
    0: [(50, -1.2), (82, -1.33), (84, -1.22), (86, -1.36), (100, -1.4), (150, -1.56), (200, -1.71),
        (250, -1.84), (300, -1.97), (328, -2.1)],
    1: [(40, -1.22), (60, -1.27), (100, -1.43), (150, -1.58), (200, -1.73), (250, -1.86), (300, -1.97), (316, -2.03)],
    2: [(50, -1.3), (96, -1.5), (98, -1.52), (100, -1.4), (102, -1.58), (150, -1.8), (220, -2.15)],
    3: [(40, -1.75), (60, -1.9), (100, -2.05), (137, -2.28)],
    4: [(40, -1.8), (70, -2.0), (112, -2.47)],
    5: [(50, -2.0), (70, -2.15), (85, -2.33)],
    6: [(40, -2.0), (60, -2.05), (75, -2.12)],
    7: [(30, -2.05), (45, -2.2), (51, -2.5)],
    8: [(40, -2.0), (50, -2.0), (55, -1.95), (57, -1.4), (59, -2.0), (65, -2.05), (72, -2.1)],
    11: [(30, -2.05), (36, -2.15), (42, -2.35)],
}

RATLIFF_ELASTICA = [
    [-0.55,-0.4,-0.6,-0.75,-0.85,-0.9,-0.9],
    [-0.9,-0.3,-0.1,-0.3,-0.5,-0.8,-1.0,-1.05,-1.1,-1.1],
    [-1.3,-0.6,-0.2,-0.4,-0.7,-1.0,-1.2,-1.25],
    [-0.7,-0.1,-0.3,-0.05,-0.25,-0.35,-0.3,-0.25,-0.4,-0.3,-0.5,-0.6,-0.75,-0.9,-1.2,-1.5,-1.7,-1.9,-2.0,-2.1,
     -2.3,-2.5,-2.6,-2.65],
    [-0.5,-0.2,-0.4,-0.1,-0.3,-0.2,-0.3,-0.4,-0.5,-0.6,-0.55,-0.65,-0.6,-0.7,-0.65,-0.6,-0.55,-0.5,-0.6,-1.4,
     -2.0,-2.05,-2.1,-2.15,-2.2,-2.25,-2.3,-2.35],
    [-0.6,-0.1,-0.3,-0.2,-0.35,-0.25,-0.3,-0.2,-0.3,-0.05,-0.4,-0.3,-0.5,-0.45,-0.6,-0.55,-0.6,-0.7,-0.75,-0.8,
     -1.9,-2.0,-2.05,-2.1],
    [-0.8,-0.2,-0.05,-0.3,-0.1,-0.35,-0.2,-0.4,-0.5,-0.6,-0.8,-0.9,-1.0,-1.2,-1.4,-1.6,-1.75,-1.85,-1.95,-2.0],
    [-1.0,-0.4,-0.2,-0.5,-0.7,-1.0,-1.3,-1.6,-1.8,-2.64],
    [-0.9,-0.15,-0.35,-0.1,-0.4,-0.5,-0.8,-1.1,-1.4,-1.6,-1.8,-2.0,-2.3,-2.64],
    [-0.6,-0.3,-0.05,-0.25,-0.5,-0.7,-0.9,-1.1,-1.3,-1.5,-1.7,-1.9,-2.1,-2.3,-2.67],
    [-0.7,-0.2,-0.4,-0.15,-0.3,-0.5,-0.6,-0.8,-1.0,-1.2,-1.4,-1.6,-1.8,-1.9,-2.0,-2.1,-2.2,-2.67],
    [-0.5,-0.3,-0.2,-0.4,-0.3,-0.5,-0.7,-0.9,-1.1,-1.3,-1.5,-1.65,-1.8,-1.9,-2.0,-2.1,-2.2,-2.3,-2.4,-2.45,
     -2.5,-2.5,-2.5,-2.55,-2.6,-2.62],
    [-1.1,-0.5,-0.3,-0.5,-0.7,-0.9,-1.1,-1.3,-1.45,-1.6,-1.7,-1.8,-1.85,-1.9,-1.92,-1.94,-1.96,-1.98,-2.0,-2.02,
     -2.04,-2.06,-2.08,-2.1,-2.12,-2.15,-2.18,-2.2,-2.23,-2.26,-2.29,-2.32,-2.35,-2.37,-2.4,-2.42,-2.44,-2.46,-2.47],
    [-0.8,-0.3,-0.1,-0.4,-0.6,-0.8,-1.0,-1.2,-1.3,-1.4,-1.5,-1.6,-1.7,-1.8,-1.9,-1.95,-2.0,-2.05,-2.1,-2.15,-2.2],
    [-0.4,-0.1,-0.2,-0.35,-0.5,-0.6,-0.5,-0.55,-0.45,-0.35,-0.4,-0.5,-0.6,-0.55,-0.5,-0.45,-0.5,-0.6,-0.55,-0.7,
     -1.9,-2.1,-2.2,-2.3,-2.48],
    [-1.2,-0.4,0.0,-0.2,-0.4,-0.3,-0.5,-0.7,-0.9,-1.1,-1.3,-1.5,-1.7,-1.9,-2.0,-2.1,-2.2,-2.35,-2.48],
    [-1.38,-0.8,-0.5,-0.9,-1.2,-1.5,-1.7,-1.8,-1.9,-1.95,-2.0],
    [-0.9,-0.6,-0.3,-0.2,-0.4,-0.7,-1.0,-1.3,-1.55,-1.75,-1.9,-2.0,-2.1,-2.15,-2.2,-2.25,-2.28,-2.3],
]
RATLIFF_ELASTICA_TAILS = {
    0: [(63, -0.93)],
    1: [(24, -1.13)],
    2: [(20, -1.3)],
    4: [(30, -2.33)],
    5: [(27, -1.95)],
    6: [(34, -2.0)],
    13: [(36, -2.23)],
    16: [(34, -2.0)],
    17: [(30, -2.31)],
}

# Axis settings
X_LIMITS = [(1, 276), (1, 210), (1, 395), (1, 45), (1, 29), (1, 38), (1, 456), (1, 328), (1, 63)]
X_TICKS = [[50, 100, 150, 200, 250], [50, 100, 150, 200], [50, 100, 150, 200, 250, 300, 350],
           [10, 20, 30, 40], [5, 10, 15, 20, 25], [5, 10, 15, 20, 25, 30, 35],
           [100, 200, 300, 400], [50, 100, 150, 200, 250, 300], [10, 20, 30, 40, 50, 60]]
ROW_YLABELS = ["trajectory error", "margin", "feature error"]
ROW_YLIM_EXP = [(-6, 1), (-5, 4), (-3, 1)]
ROW_YTICK_EXP = [[0, -2, -4, -6], [4, 2, 0, -2, -4], [1, 0, -1, -2, -3]]
CAPTIONS = [
    (["(a)", "Method", "of", "Mom-"], "baur, LQR."),
    (["(b)", "Method", "of", "Mom-"], "baur, Unicycle."),
    (["(c)", "Method", "of", "Mom-"], "baur, Elastica."),
    (["(d)", "Method", "of", "Abbeel,"], "LQR."),
    (["(e)", "Method", "of", "Abbeel,"], "Unicycle."),
    (["(f)", "Method", "of", "Abbeel,"], "Elastica."),
    (["(g)", "Method", "of", "Ratliff,"], "LQR."),
    (["(h)", "Method", "of", "Ratliff,"], "Unicycle."),
    (["(i)", "Method", "of", "Ratliff,"], "Elastica."),
]

PANELS = [
    (MOMBAUR_LQR, MOMBAUR_STEP, {}, {}),
    (MOMBAUR_UNICYCLE, MOMBAUR_STEP, {}, {}),
    (MOMBAUR_ELASTICA, MOMBAUR_STEP, MOMBAUR_ELASTICA_TAILS, MOMBAUR_ELASTICA_LINE_STEP),
    (ABBEEL_LQR, ABBEEL_STEP, {}, {}),
    (ABBEEL_UNICYCLE, ABBEEL_STEP, {}, {}),
    (ABBEEL_ELASTICA, ABBEEL_STEP, ABBEEL_ELASTICA_TAILS, {}),
    (RATLIFF_LQR, RATLIFF_STEP, RATLIFF_LQR_TAILS, {}),
    (RATLIFF_UNICYCLE, RATLIFF_STEP, RATLIFF_UNICYCLE_TAILS, {}),
    (RATLIFF_ELASTICA, RATLIFF_STEP, RATLIFF_ELASTICA_TAILS, {}),
]


def to_frame(lines, step, tails, line_steps):
    recs = []
    for k, vals in enumerate(lines):
        s = line_steps.get(k, step)
        pts = [(1 + s * i, v) for i, v in enumerate(vals)]
        pts += list(tails.get(k, []))
        for it, lv in pts:
            recs.append((k, it, 10.0 ** lv))
    return pd.DataFrame(recs, columns=["run", "iteration", "value"])


# ---------------------------------------------------------------------------
# FIGURE
# ---------------------------------------------------------------------------
sns.set_theme(style="ticks")
plt.rcParams["font.family"] = ["Liberation Sans", "DejaVu Sans"]
plt.rcParams["mathtext.fontset"] = "custom"
plt.rcParams["mathtext.rm"] = "Liberation Sans"
plt.rcParams["mathtext.it"] = "Liberation Sans:italic"
plt.rcParams["mathtext.bf"] = "Liberation Sans:bold"

W, H = 976, 1026
fig = plt.figure(figsize=(W / 100, H / 100), dpi=100)
fig.patch.set_facecolor("white")

BLUE = "#1447a6"
COL_LEFT = [47, 378, 710]
ROW_TOP = [8, 363, 717]
AX_W, AX_H = 266, 210
ROW_LW = [1.1, 0.85, 0.85]


def log_label(v, pos):
    e = int(round(np.log10(v)))
    return r"$\mathregular{10^{%d}}$" % e


for idx, (lines, step, tails, line_steps) in enumerate(PANELS):
    r, c = divmod(idx, 3)
    left = COL_LEFT[c] / W
    bottom = 1 - (ROW_TOP[r] + AX_H) / H
    ax = fig.add_axes([left, bottom, AX_W / W, AX_H / H])
    df = to_frame(lines, step, tails, line_steps)
    sns.lineplot(data=df, x="iteration", y="value", units="run", estimator=None,
                 color=BLUE, linewidth=ROW_LW[r], ax=ax, legend=False)
    ax.set_yscale("log")
    lo, hi = ROW_YLIM_EXP[r]
    ax.set_ylim(10.0 ** lo, 10.0 ** hi)
    ax.set_xlim(*X_LIMITS[idx])
    ax.xaxis.set_major_locator(FixedLocator(X_TICKS[idx]))
    ax.yaxis.set_major_locator(FixedLocator([10.0 ** e for e in ROW_YTICK_EXP[r]]))
    ax.yaxis.set_major_formatter(FuncFormatter(log_label))
    if r == 2:
        ax.yaxis.set_minor_locator(LogLocator(base=10, subs=np.arange(2, 10) * 1.0, numticks=20))
    else:
        ax.yaxis.set_minor_locator(NullLocator())
    ax.yaxis.set_minor_formatter(NullFormatter())
    ax.xaxis.set_minor_locator(NullLocator())
    ax.tick_params(which="major", direction="in", length=3, width=0.6, labelsize=8.5,
                   pad=3, colors="#222222", labelcolor="#222222")
    ax.tick_params(which="minor", direction="in", length=1.8, width=0.5, colors="#222222")
    for s in ["top", "right"]:
        ax.spines[s].set_visible(False)
    for s in ["left", "bottom"]:
        ax.spines[s].set_linewidth(0.8)
        ax.spines[s].set_color("#222222")
    ax.set_facecolor("white")
    ax.set_xlabel("iterations", fontsize=8.5, labelpad=0, color="#222222")
    ax.set_ylabel(ROW_YLABELS[r], fontsize=8.5, labelpad=1, color="#222222")

# captions, justified over the width of a panel like the LaTeX sub-captions
renderer = fig.canvas.get_renderer()
CAP_LEFT = [25, 356, 688]
CAP_W = 265
CAP_BASE = [280.7, 635.7, 989.7]
LINE_GAP = 28.3
for idx, (words, second) in enumerate(CAPTIONS):
    r, c = divmod(idx, 3)
    x0 = CAP_LEFT[c]
    yb = CAP_BASE[r]
    objs = []
    for i, wd in enumerate(words):
        t = fig.text(0, 1 - yb / H, wd, fontfamily="cmb10" if i == 0 else "cmr10",
                     fontsize=18, va="baseline", ha="left", color="black")
        objs.append(t)
    widths = [t.get_window_extent(renderer).width for t in objs]
    gap = (CAP_W - sum(widths)) / (len(objs) - 1)
    x = x0
    for t, wdt in zip(objs, widths):
        t.set_x(x / W)
        x += wdt + gap
    fig.text(x0 / W, 1 - (yb + LINE_GAP) / H, second, fontfamily="cmr10", fontsize=18,
             va="baseline", ha="left", color="black")

fig.savefig("out.png", dpi=100, facecolor="white")
